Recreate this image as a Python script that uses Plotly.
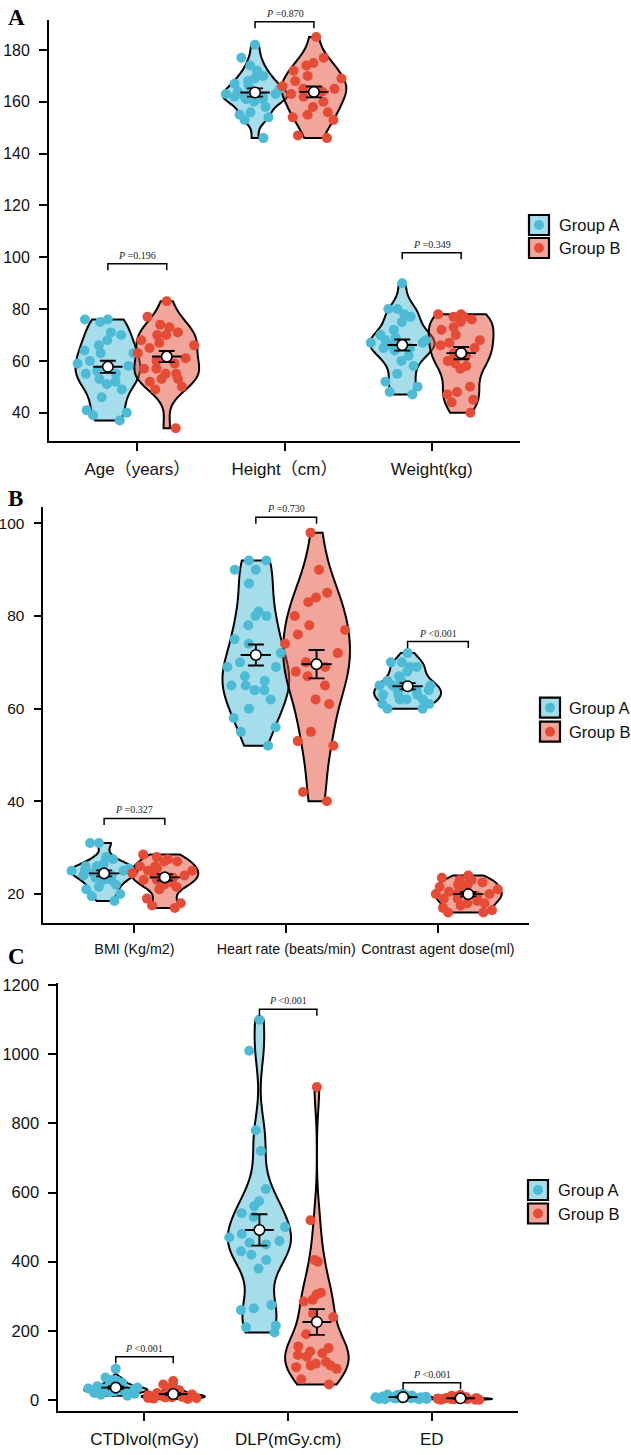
import numpy as np
import plotly.graph_objects as go

W, H = 631, 1455

# ---------------- data ----------------
cats_a = ["Age（years）", "Height（cm）", "Weight(kg)"]
age_a = [76, 75, 76, 71, 70, 68, 66, 64, 63, 63, 60, 59, 58, 56, 55, 55, 53, 52, 51, 49, 46, 41, 40, 39, 37]
age_b = [83, 77, 74, 73, 71, 70, 70, 68, 67, 66, 65, 63, 61, 60, 59, 57, 57, 55, 55, 53, 53, 52, 50, 49, 34]
height_a = [182, 177, 174, 172, 170, 169, 168, 167, 166, 165, 164, 163, 163, 162, 162, 162, 161, 161, 160, 158, 156, 155, 154, 153, 146]
height_b = [185, 177, 175, 174, 172, 170, 169, 168, 166, 165, 165, 164, 163, 162, 160, 158, 156, 155, 154, 153, 147, 146]
weight_a = [90, 80, 80, 78, 77, 75, 72, 70, 69, 68, 68, 67, 67, 66, 65, 65, 64, 62, 60, 58, 55, 52, 50, 48, 47]
weight_b = [78, 78, 77, 77, 76, 75, 73, 72, 70, 68, 67, 66, 65, 63, 62, 60, 59, 58, 57, 50, 48, 47, 45, 44, 40]
p_a = ["=0.196", "=0.870", "=0.349"]
bracket_a = [97.5, 190.9, 101.7]
ticks_a = [40, 60, 80, 100, 120, 140, 160, 180]

cats_b = ["BMI (Kg/m2)", "Heart rate (beats/min)", "Contrast agent dose(ml)"]
bmi_a = [31, 31, 28, 27.5, 26.5, 26, 26, 25.5, 25.5, 25, 25, 25, 24.5, 24, 24, 23.5, 23, 23, 22, 21.5, 21, 20, 19.5, 18.5]
bmi_b = [28.5, 28, 27.5, 27, 27, 26, 26, 25.5, 25, 25, 24.5, 24, 24, 23.5, 23, 23, 22.5, 22, 21.5, 21, 19, 18, 17.5, 17]
hr_a = [92, 92, 90, 90, 87, 81, 80, 80, 78, 75, 74, 72, 70, 69, 69, 67, 66, 65, 65, 64, 64, 62, 60, 58, 56, 55, 52]
hr_b = [98, 90, 85, 84, 83, 80, 78, 77, 76, 74, 72, 70, 69, 68, 67, 65, 62, 61, 55, 53, 52, 42, 40]
contrast_a = [72, 70, 70, 69, 69, 68, 67, 66, 66, 65, 65, 65, 64, 64, 64, 63, 63, 63, 62, 62, 62, 61, 61, 60, 60]
contrast_b = [24, 23.5, 23, 23, 22.5, 22, 22, 21.5, 21, 21, 20.5, 20, 20, 20, 19.5, 19, 19, 18.5, 18, 18, 17.5, 17, 16.5, 16, 16]
p_b = ["=0.327", "=0.730", "&lt;0.001"]
bracket_b = [36.3, 101.3, 74.5]
ticks_b = [20, 40, 60, 80, 100]

cats_c = ["CTDIvol(mGy)", "DLP(mGy.cm)", "ED"]
ctdi_a = [90, 65, 58, 55, 50, 45, 42, 40, 38, 36, 35, 33, 32, 30, 30, 28, 27, 26, 25, 24, 22, 20, 18, 15, 12]
ctdi_b = [55, 45, 35, 30, 28, 25, 22, 20, 18, 16, 15, 14, 13, 12, 11, 10, 10, 9, 8, 8, 7, 6, 5, 4, 3]
dlp_a = [1100, 1010, 780, 720, 610, 575, 560, 540, 530, 500, 480, 470, 460, 455, 450, 430, 420, 405, 380, 275, 265, 260, 215, 210, 195]
dlp_b = [905, 520, 405, 400, 310, 305, 290, 285, 250, 240, 190, 155, 150, 140, 135, 130, 125, 110, 105, 100, 100, 95, 90, 60, 45]
ed_a = [18, 16, 15, 14, 13, 12, 11, 10, 10, 9, 9, 8, 8, 7, 7, 6, 6, 5, 5, 4, 4, 3, 3, 2, 2]
ed_b = [15, 12, 10, 9, 8, 7, 6, 6, 5, 5, 5, 4, 4, 4, 3, 3, 3, 3, 2, 2, 2, 2, 1, 1, 1]
p_c = ["&lt;0.001", "&lt;0.001", "&lt;0.001"]
bracket_c = [125, 1130, 50]
ticks_c = [0, 200, 400, 600, 800, 1000, 1200]

group_names = ["Group A", "Group B"]

# ---------------- styling ----------------
pt_colors = ["#4DBBD5", "#E64B35"]
fill_colors = ["rgba(77,187,213,0.5)", "rgba(230,75,53,0.5)"]
offsets = [-0.2, 0.2]
VW = 0.44  # violin width in category units
SANS = "Liberation Sans, Arial, Noto Sans CJK SC, sans-serif"
SERIF = "Liberation Serif, Times New Roman, serif"

panels = [
    dict(cats=cats_a, a=[age_a, height_a, weight_a], b=[age_b, height_b, weight_b], p=p_a, br=bracket_a,
         ticks=ticks_a, x0=49, x1=520, yt=20.2, yb=440.7, yr=[29.2, 191.5], label="A", label_y=17.5,
         leg_x=529, leg_y=[225, 248], leg_tx=557, xfs=17, yfs=16),
    dict(cats=cats_b, a=[bmi_a, hr_a, contrast_a], b=[bmi_b, hr_b, contrast_b], p=p_b, br=bracket_b,
         ticks=ticks_b, x0=43.4, x1=529, yt=506.7, yb=922.7, yr=[13.8, 103.6], label="B", label_y=498,
         leg_x=540, leg_y=[707.7, 731.7], leg_tx=567, xfs=14.3, yfs=15.5),
    dict(cats=cats_c, a=[ctdi_a, dlp_a, ed_a], b=[ctdi_b, dlp_b, ed_b], p=p_c, br=bracket_c,
         ticks=ticks_c, x0=58.3, x1=518, yt=983, yb=1410.7, yr=[-31, 1206], label="C", label_y=956,
         leg_x=528, leg_y=[1190, 1213.5], leg_tx=556, xfs=17, yfs=16.5),
]


def nrd0(v):
    v = np.asarray(v, dtype=float)
    sd = np.std(v, ddof=1)
    iqr = np.subtract(*np.percentile(v, [75, 25]))
    lo = min(sd, iqr / 1.34) if iqr > 0 else sd
    return 0.9 * lo * len(v) ** (-0.2)


fig = go.Figure()
shapes, annotations = [], []
layout = {}

for k, P in enumerate(panels):
    sfx = "" if k == 0 else str(k + 1)
    xa, ya = "x" + sfx, "y" + sfx
    groups = [P["a"], P["b"]]

    # violins first
    for i in range(3):
        for g in range(2):
            vals = groups[g][i]
            fig.add_trace(go.Violin(
                x0=i + 1 + offsets[g], y=vals, xaxis=xa, yaxis=ya, orientation="v",
                width=VW, scalegroup=f"s{k}{i}{g}", scalemode="width", spanmode="hard",
                bandwidth=nrd0(vals), fillcolor=fill_colors[g],
                line=dict(color="black", width=2), points=False,
                box_visible=False, meanline_visible=False, showlegend=False,
                hoverinfo="skip", name=group_names[g]))
    # jittered points on top
    for i in range(3):
        for g in range(2):
            vals = groups[g][i]
            fig.add_trace(go.Violin(
                x0=i + 1 + offsets[g], y=vals, xaxis=xa, yaxis=ya, orientation="v",
                width=VW, scalegroup=f"s{k}{i}{g}", scalemode="width", spanmode="hard",
                bandwidth=nrd0(vals), fillcolor="rgba(0,0,0,0)",
                line=dict(color="rgba(0,0,0,0)", width=0), points="all", pointpos=0, jitter=1,
                marker=dict(color=pt_colors[g], size=10, opacity=1, line=dict(width=0)),
                box_visible=False, meanline_visible=False, showlegend=False,
                hoverinfo="y", name=group_names[g]))
    # mean +/- SE
    for g in range(2):
        means = [float(np.mean(v)) for v in groups[g]]
        ses = [float(np.std(v, ddof=1) / np.sqrt(len(v))) for v in groups[g]]
        fig.add_trace(go.Scatter(
            x=[i + 1 + offsets[g] for i in range(3)], y=means, mode="markers",
            xaxis=xa, yaxis=ya, showlegend=False, cliponaxis=False,
            marker=dict(size=10.5, color="white", line=dict(color="black", width=1.6)),
            error_y=dict(type="data", array=ses, color="black", thickness=1.9, width=8),
            error_x=dict(type="data", array=[0.1] * 3, color="black", thickness=1.9, width=0)))

    # axes
    ppu = (P["yb"] - P["yt"]) / (P["yr"][1] - P["yr"][0])
    common = dict(showline=True, linecolor="black", linewidth=1.8, ticks="outside", ticklen=8,
                  tickwidth=1.8, tickcolor="black", showgrid=False, zeroline=False,
                  automargin=False, fixedrange=True, tickangle=0)
    layout["xaxis" + sfx] = dict(
        domain=[P["x0"] / W, P["x1"] / W], range=[0.4, 3.6], type="linear",
        tickmode="array", tickvals=[1, 2, 3], ticktext=P["cats"], anchor=ya,
        ticklabelstandoff=4, tickfont=dict(family=SANS, size=P["xfs"], color="#111"), **common)
    layout["yaxis" + sfx] = dict(
        domain=[1 - P["yb"] / H, 1 - P["yt"] / H], range=P["yr"], type="linear",
        tickmode="array", tickvals=P["ticks"], anchor=xa,
        ticklabelstandoff=6, tickfont=dict(family=SANS, size=P["yfs"], color="#111"), **common)

    # significance brackets
    drop = 6.5 / ppu
    for i in range(3):
        xl, xr = i + 1 + offsets[0], i + 1 + offsets[1]
        yt = P["br"][i]
        shapes.append(dict(type="path", xref=xa, yref=ya,
                           path=f"M {xl},{yt - drop} L {xl},{yt} L {xr},{yt} L {xr},{yt - drop}",
                           line=dict(color="black", width=1.5)))
        annotations.append(dict(x=i + 1, y=yt, xref=xa, yref=ya, yanchor="bottom", yshift=1,
                                text=f"<i>P</i> {P['p'][i]}", showarrow=False,
                                font=dict(family=SERIF, size=10, color="#222")))

    # panel label
    annotations.append(dict(x=6 / W, y=1 - P["label_y"] / H, xref="paper", yref="paper",
                            xanchor="left", yanchor="middle", text=f"<b>{P['label']}</b>",
                            showarrow=False, font=dict(family=SERIF, size=23, color="black")))

    # legend (drawn manually: square key with dot)
    ks = 20
    for g in range(2):
        cy = P["leg_y"][g]
        kx = P["leg_x"]
        shapes.append(dict(type="rect", xref="paper", yref="paper",
                           x0=kx / W, x1=(kx + ks) / W, y0=1 - (cy + ks / 2) / H, y1=1 - (cy - ks / 2) / H,
                           fillcolor=fill_colors[g], line=dict(color="black", width=2.2)))
        r = 5
        cx = kx + ks / 2
        shapes.append(dict(type="circle", xref="paper", yref="paper",
                           x0=(cx - r) / W, x1=(cx + r) / W, y0=1 - (cy + r) / H, y1=1 - (cy - r) / H,
                           fillcolor=pt_colors[g], line=dict(width=0)))
        annotations.append(dict(x=P["leg_tx"] / W, y=1 - cy / H, xref="paper", yref="paper",
                                xanchor="left", yanchor="middle", text=group_names[g], showarrow=False,
                                font=dict(family=SANS, size=16.5, color="#111")))

fig.update_layout(
    template="none",
    width=W, height=H, margin=dict(l=0, r=0, t=0, b=0, pad=0, autoexpand=False),
    paper_bgcolor="white", plot_bgcolor="white", showlegend=False,
    violinmode="overlay", shapes=shapes, annotations=annotations, **layout)

fig.write_html("out.html", config={"displayModeBar": False},
               post_script="document.body.style.margin='0';document.body.style.padding='0';")
